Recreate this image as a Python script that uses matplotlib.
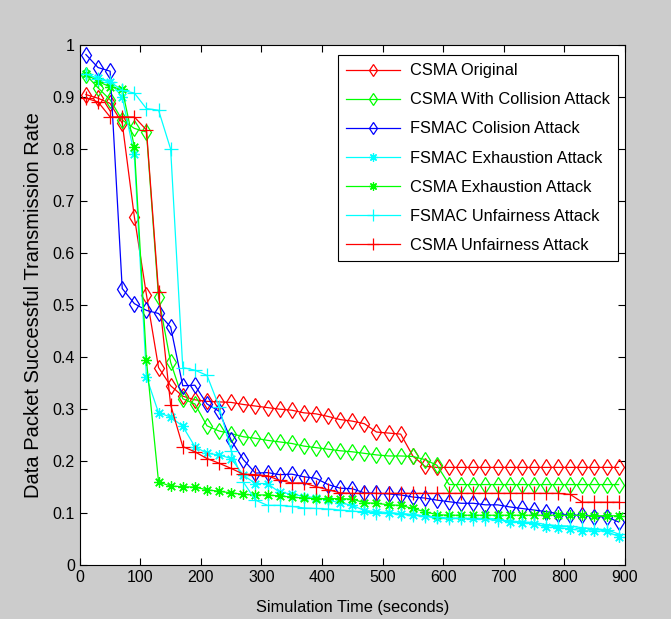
import matplotlib
matplotlib.use('Agg')
import matplotlib.pyplot as plt

plt.rcParams['font.family'] = ['Liberation Sans', 'DejaVu Sans']

# simulation time (s)
t = [10, 30, 50, 70, 90, 110, 130, 150, 170, 190,
     210, 230, 250, 270, 290, 310, 330, 350, 370, 390,
     410, 430, 450, 470, 490, 510, 530, 550, 570, 590,
     610, 630, 650, 670, 690, 710, 730, 750, 770, 790,
     810, 830, 850, 870, 890]

csma_orig = [0.905, 0.898, 0.888, 0.850, 0.670, 0.520, 0.380, 0.345, 0.325, 0.318,
             0.315, 0.314, 0.313, 0.309, 0.306, 0.303, 0.300, 0.298, 0.293, 0.291,
             0.286, 0.280, 0.277, 0.272, 0.256, 0.254, 0.252, 0.210, 0.190, 0.188,
             0.188, 0.188, 0.188, 0.188, 0.188, 0.188, 0.188, 0.188, 0.188, 0.188,
             0.188, 0.188, 0.188, 0.188, 0.188]

csma_coll = [0.943, 0.918, 0.895, 0.856, 0.840, 0.833, 0.515, 0.390, 0.320, 0.310,
             0.268, 0.258, 0.253, 0.247, 0.244, 0.240, 0.237, 0.234, 0.229, 0.226,
             0.223, 0.220, 0.218, 0.215, 0.212, 0.210, 0.210, 0.209, 0.203, 0.192,
             0.155, 0.155, 0.155, 0.155, 0.155, 0.155, 0.155, 0.155, 0.155, 0.155,
             0.155, 0.155, 0.155, 0.155, 0.155]

fsmac_coll = [0.982, 0.957, 0.950, 0.532, 0.503, 0.490, 0.484, 0.458, 0.345, 0.346,
              0.310, 0.296, 0.240, 0.203, 0.177, 0.178, 0.174, 0.175, 0.170, 0.167,
              0.155, 0.148, 0.147, 0.139, 0.138, 0.137, 0.135, 0.131, 0.129, 0.125,
              0.122, 0.119, 0.119, 0.116, 0.116, 0.112, 0.109, 0.106, 0.103, 0.099,
              0.096, 0.096, 0.093, 0.093, 0.083]

fsmac_exh = [0.945, 0.936, 0.929, 0.900, 0.790, 0.362, 0.293, 0.285, 0.267, 0.228,
             0.215, 0.212, 0.205, 0.173, 0.157, 0.157, 0.140, 0.137, 0.132, 0.130,
             0.125, 0.120, 0.115, 0.105, 0.103, 0.101, 0.099, 0.097, 0.094, 0.091,
             0.090, 0.090, 0.090, 0.090, 0.089, 0.083, 0.082, 0.080, 0.073, 0.072,
             0.070, 0.066, 0.066, 0.065, 0.055]

csma_exh = [0.945, 0.930, 0.920, 0.915, 0.805, 0.394, 0.160, 0.152, 0.151, 0.150,
            0.145, 0.142, 0.139, 0.136, 0.135, 0.135, 0.133, 0.131, 0.129, 0.128,
            0.128, 0.128, 0.127, 0.120, 0.119, 0.116, 0.115, 0.109, 0.103, 0.097,
            0.096, 0.096, 0.096, 0.096, 0.096, 0.096, 0.096, 0.096, 0.096, 0.096,
            0.096, 0.096, 0.095, 0.095, 0.095]

fsmac_unf = [0.945, 0.935, 0.930, 0.913, 0.908, 0.878, 0.875, 0.800, 0.380, 0.375,
             0.365, 0.305, 0.220, 0.160, 0.125, 0.115, 0.115, 0.113, 0.110, 0.109,
             0.108, 0.106, 0.104, 0.102, 0.100, 0.100, 0.099, 0.097, 0.095, 0.092,
             0.090, 0.090, 0.089, 0.088, 0.087, 0.085, 0.083, 0.082, 0.078, 0.076,
             0.075, 0.072, 0.070, 0.068, 0.060]

csma_unf = [0.898, 0.891, 0.862, 0.862, 0.862, 0.837, 0.525, 0.308, 0.228, 0.218,
            0.205, 0.196, 0.186, 0.175, 0.174, 0.172, 0.163, 0.158, 0.158, 0.151,
            0.145, 0.139, 0.138, 0.138, 0.138, 0.138, 0.138, 0.138, 0.138, 0.138,
            0.138, 0.138, 0.138, 0.138, 0.138, 0.138, 0.138, 0.138, 0.138, 0.138,
            0.136, 0.121, 0.121, 0.121, 0.121]

labels = ['CSMA Original', 'CSMA With Collision Attack', 'FSMAC Colision Attack',
          'FSMAC Exhaustion Attack', 'CSMA Exhaustion Attack',
          'FSMAC Unfairness Attack', 'CSMA Unfairness Attack']

asterisk = (8, 2, 0)

fig = plt.figure(figsize=(6.71, 6.19), dpi=100, facecolor='#cccccc')
ax = fig.add_axes([0.119, 0.087, 0.812, 0.840])

ax.plot(t, csma_orig, color='#ff0000', marker='d', ms=8, mfc='none', mew=0.9, lw=0.9, label=labels[0])
ax.plot(t, csma_coll, color='#00ff00', marker='d', ms=8, mfc='none', mew=0.9, lw=0.9, label=labels[1])
ax.plot(t, fsmac_coll, color='#0000ff', marker='d', ms=8, mfc='none', mew=0.9, lw=0.9, label=labels[2])
ax.plot(t, fsmac_exh, color='#00ffff', marker=asterisk, ms=7.5, mew=0.9, lw=0.9, label=labels[3])
ax.plot(t, csma_exh, color='#00ff00', marker=asterisk, ms=7.5, mew=0.9, lw=0.9, label=labels[4])
ax.plot(t, fsmac_unf, color='#00ffff', marker='+', ms=10, mew=0.9, lw=0.9, label=labels[5])
ax.plot(t, csma_unf, color='#ff0000', marker='+', ms=10, mew=0.9, lw=0.9, label=labels[6])

ax.set_xlim(0, 900)
ax.set_ylim(0, 1)
ax.set_xticks(range(0, 901, 100))
ax.set_yticks([i / 10 for i in range(11)])
ax.set_yticklabels(['0', '0.1', '0.2', '0.3', '0.4', '0.5', '0.6', '0.7', '0.8', '0.9', '1'])
ax.tick_params(direction='in', top=True, right=True, labelsize=11.5, length=5, width=0.8)
for s in ax.spines.values():
    s.set_linewidth(0.8)

ax.set_xlabel('Simulation Time (seconds)', fontsize=11.8, labelpad=11)
ax.set_ylabel('Data Packet Successful Transmission Rate', fontsize=14.5, labelpad=7)

leg = ax.legend(loc='upper right', bbox_to_anchor=(0.921, 0.911), bbox_transform=fig.transFigure,
                fontsize=11.8, fancybox=False, edgecolor='black', framealpha=1,
                handlelength=3.3, labelspacing=0.86, borderpad=0.5, borderaxespad=0,
                handletextpad=0.6, markerscale=0.8)
leg.get_frame().set_linewidth(0.8)

fig.savefig('out.png', dpi=100, facecolor=fig.get_facecolor())
